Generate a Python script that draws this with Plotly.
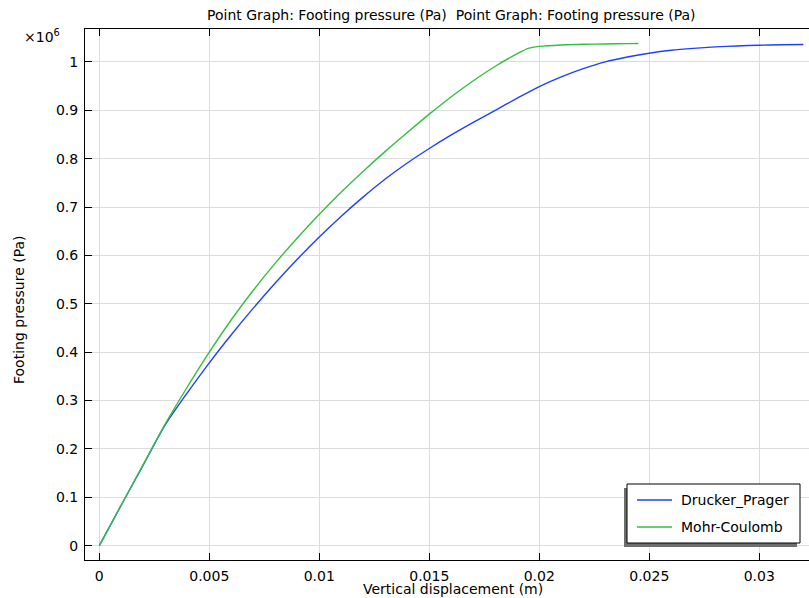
import plotly.graph_objects as go

# Vertical displacement (m)
dp_disp = [0, 0.001, 0.002, 0.003, 0.004, 0.005, 0.006, 0.007, 0.008, 0.009, 0.010,
           0.011, 0.012, 0.013, 0.014, 0.015, 0.016, 0.017, 0.018, 0.019, 0.020,
           0.021, 0.022, 0.023, 0.024, 0.025, 0.026, 0.027, 0.028, 0.029, 0.030,
           0.031, 0.032]
# Footing pressure (x1e6 Pa)
dp_press = [0, 0.084, 0.167, 0.250, 0.316, 0.378, 0.436, 0.491, 0.543, 0.592, 0.638,
            0.681, 0.721, 0.758, 0.791, 0.821, 0.849, 0.875, 0.900, 0.925, 0.949,
            0.969, 0.986, 1.000, 1.010, 1.018, 1.024, 1.028, 1.031, 1.033, 1.0345,
            1.0355, 1.036]

mc_disp = [0, 0.001, 0.002, 0.003, 0.004, 0.005, 0.006, 0.007, 0.008, 0.009, 0.010,
           0.011, 0.012, 0.013, 0.014, 0.015, 0.016, 0.017, 0.018, 0.019, 0.0195,
           0.020, 0.021, 0.022, 0.023, 0.024, 0.0245]
mc_press = [0, 0.084, 0.168, 0.252, 0.328, 0.400, 0.467, 0.528, 0.584, 0.636, 0.685,
            0.731, 0.774, 0.815, 0.854, 0.892, 0.928, 0.961, 0.991, 1.017, 1.028,
            1.032, 1.035, 1.0365, 1.037, 1.0378, 1.038]

series_names = ["Drucker_Prager", "Mohr-Coulomb"]
series_colors = ["#2040ff", "#33bf40"]

FONT = "DejaVu Sans"
FS = 14
W, H = 809, 598
L, R, T, B = 85, 0, 29, 38
pw, ph = W - L - R, H - T - B


def px2paper(x, y):
    return (x - L) / pw, (H - B - y) / ph


fig = go.Figure()
for xs, ys, nm, col in [(dp_disp, dp_press, series_names[0], series_colors[0]),
                        (mc_disp, mc_press, series_names[1], series_colors[1])]:
    fig.add_trace(go.Scatter(x=xs, y=ys, mode="lines", name=nm, showlegend=False,
                             line=dict(color=col, width=1.4, shape="spline", smoothing=0.7)))

# manual legend (box, shadow, samples, labels)
sx0, sy0 = px2paper(624, 547)
sx1, sy1 = px2paper(797, 488)
fig.add_shape(type="rect", xref="paper", yref="paper", x0=sx0, y0=sy0, x1=sx1, y1=sy1,
              fillcolor="#6e6e6e", line=dict(width=0), layer="above")
bx0, by0 = px2paper(627, 543)
bx1, by1 = px2paper(800, 484)
fig.add_shape(type="rect", xref="paper", yref="paper", x0=bx0, y0=by0, x1=bx1, y1=by1,
              fillcolor="white", line=dict(color="black", width=1), layer="above")
for i, (nm, col) in enumerate(zip(series_names, series_colors)):
    yy = 500 + 27 * i
    lx0, ly = px2paper(637, yy)
    lx1, _ = px2paper(672, yy)
    fig.add_shape(type="line", xref="paper", yref="paper", x0=lx0, x1=lx1, y0=ly, y1=ly,
                  line=dict(color=col, width=1.3), layer="above")
    tx, _ = px2paper(679, yy)
    fig.add_annotation(text=nm, xref="paper", yref="paper", x=tx, y=ly,
                       xanchor="left", yanchor="middle", showarrow=False,
                       font=dict(family=FONT, size=FS, color="black"))

fig.update_layout(
    width=W, height=H,
    margin=dict(l=L, r=R, t=T, b=B),
    paper_bgcolor="white", plot_bgcolor="white",
    font=dict(family=FONT, size=FS, color="black"),
    showlegend=False,
    xaxis=dict(range=[-0.00065, 0.03226], dtick=0.005, tick0=0,
               showgrid=True, gridcolor="#dcdcdc", gridwidth=1,
               zeroline=False, showline=True, linecolor="black", linewidth=1,
               mirror="ticks", ticks="inside", ticklen=7, tickcolor="black",
               ticklabelstandoff=3,
               tickfont=dict(family=FONT, size=FS)),
    yaxis=dict(range=[-0.0296, 1.068], dtick=0.1, tick0=0,
               showgrid=True, gridcolor="#dcdcdc", gridwidth=1,
               zeroline=False, showline=True, linecolor="black", linewidth=1,
               ticks="inside", ticklen=7, tickcolor="black",
               ticklabelstandoff=3,
               tickfont=dict(family=FONT, size=FS)),
)

# title
tx, ty = px2paper(451, 15)
fig.add_annotation(text="Point Graph: Footing pressure (Pa)  Point Graph: Footing pressure (Pa)",
                   xref="paper", yref="paper", x=tx, y=ty, xanchor="center", yanchor="middle",
                   showarrow=False, font=dict(family=FONT, size=FS, color="black"))
# x-axis title
tx, ty = px2paper(453, 589)
fig.add_annotation(text="Vertical displacement (m)", xref="paper", yref="paper", x=tx, y=ty,
                   xanchor="center", yanchor="middle", showarrow=False,
                   font=dict(family=FONT, size=FS, color="black"))
# y-axis title
tx, ty = px2paper(19, 310)
fig.add_annotation(text="Footing pressure (Pa)", xref="paper", yref="paper", x=tx, y=ty,
                   xanchor="center", yanchor="middle", showarrow=False, textangle=-90,
                   font=dict(family=FONT, size=FS, color="black"))
# exponent
tx, ty = px2paper(42, 36)
fig.add_annotation(text="×10<sup>6</sup>", xref="paper", yref="paper", x=tx, y=ty,
                   xanchor="center", yanchor="middle", showarrow=False,
                   font=dict(family=FONT, size=FS, color="black"))

fig.write_html("out.html", config={"displayModeBar": False},
               post_script="document.body.style.margin='0';document.body.style.padding='0';")
